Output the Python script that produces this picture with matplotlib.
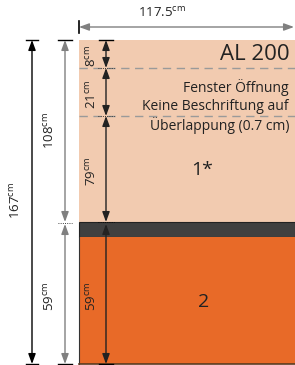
import matplotlib
matplotlib.use('Agg')
import matplotlib.pyplot as plt
from matplotlib.patches import Rectangle

plt.rcParams['font.family'] = ['Open Sans', 'DejaVu Sans']
plt.rcParams['mathtext.fontset'] = 'custom'
plt.rcParams['mathtext.rm'] = 'Open Sans'

# Maße (cm)
width_cm = 117.5
total_cm = 167
upper_cm = 108
lower_cm = 59
upper_parts_cm = [8, 21, 79]

# Beschriftungen
title = 'AL 200'
note_lines = ['Fenster Öffnung', 'Keine Beschriftung auf', 'Überlappung (0.7 cm)']
upper_label = '1*'
lower_label = '2'

# Layout in Pixel (nicht maßstäblich)
X0, X1 = 79, 295
Y_TOP = 40
Y_CUTS = [68, 116]
Y_BAND0, Y_BAND1 = 222, 237
Y_BOT = 364

PEACH = '#F2CBB0'
DARK = '#404040'
ORANGE = '#E86A28'
GREY = '#808080'
TXT = '#222222'
DIMSIZE = 9.5

fig = plt.figure(figsize=(2.95, 3.65), dpi=100)
ax = fig.add_axes([0, 0, 1, 1])
ax.set_xlim(0, 295)
ax.set_ylim(365, 0)
ax.axis('off')

# Flächen
ax.add_patch(Rectangle((X0, Y_TOP), X1 - X0, Y_BAND0 - Y_TOP, facecolor=PEACH, edgecolor='none'))
ax.add_patch(Rectangle((X0, Y_BAND0), X1 - X0, Y_BAND1 - Y_BAND0, facecolor=DARK,
                       edgecolor='#222222', linewidth=0.8))
ax.add_patch(Rectangle((X0, Y_BAND1), X1 - X0, Y_BOT - Y_BAND1, facecolor=ORANGE, edgecolor='none'))
ax.plot([X0, X0], [Y_BAND1, Y_BOT], color='#333333', lw=0.8)
ax.plot([X0, X1], [Y_BOT, Y_BOT], color='#5a3a20', lw=1.2)

for y in Y_CUTS:
    ax.plot([X0, X1], [y, y], color='#9a9a9a', lw=1.0, dashes=(6, 4))


def dim(x0, y0, x1, y1, color='black'):
    ax.annotate('', xy=(x1, y1), xytext=(x0, y0),
                arrowprops=dict(arrowstyle='<|-|>,head_length=0.6,head_width=0.22',
                                color=color, lw=1.0, shrinkA=0, shrinkB=0,
                                mutation_scale=10))


def cm(v):
    s = f'{v:g}'
    return s + r'$^{\mathrm{cm}}$'


# Breite oben
ax.plot([X0, X0], [21, 33], color='black', lw=1.2)
dim(X0, 27, 294, 27, color=GREY)
ax.text(162, 13, cm(width_cm), ha='center', va='center', fontsize=DIMSIZE, color=TXT)

# Gesamthöhe
xa = 32
ax.plot([xa - 6, xa + 6], [Y_TOP, Y_TOP], color='black', lw=1.0)
ax.plot([xa - 6, xa + 6], [Y_BOT, Y_BOT], color='black', lw=1.0)
dim(xa, Y_TOP, xa, Y_BOT)
ax.text(16, 200, cm(total_cm), rotation=90, ha='center', va='center', fontsize=DIMSIZE, color=TXT)

# 108 / 59
xb = 65
ax.plot([xb - 7, xb + 7], [Y_TOP, Y_TOP], color='black', lw=1.0)
ax.plot([xb - 7, xb + 7], [Y_BOT, Y_BOT], color='black', lw=1.0)
dim(xb, Y_TOP, xb, Y_BAND0, color=GREY)
dim(xb, Y_BAND0 + 2, xb, Y_BOT, color=GREY)
ax.plot([xb - 7, xb + 7], [Y_BAND0 + 1, Y_BAND0 + 1], color='black', lw=0.6, ls=':')
ax.text(50, 130, cm(upper_cm), rotation=90, ha='center', va='center', fontsize=DIMSIZE, color=TXT)
ax.text(50, 296, cm(lower_cm), rotation=90, ha='center', va='center', fontsize=DIMSIZE, color=TXT)

# Teilmaße im Feld
xc = 106
bounds = [Y_TOP] + Y_CUTS + [Y_BAND0]
ax.plot([xc - 7, xc + 7], [Y_TOP, Y_TOP], color='black', lw=1.0)
ax.plot([xc - 7, xc + 7], [Y_BOT, Y_BOT], color='black', lw=1.0)
for (ya, yb), v in zip(zip(bounds[:-1], bounds[1:]), upper_parts_cm):
    dim(xc, ya, xc, yb, color='#222222')
    ax.text(92, (ya + yb) / 2 + 2, cm(v), rotation=90, ha='center', va='center',
            fontsize=DIMSIZE, color=TXT)
for y in bounds[1:]:
    ax.plot([xc - 8, xc + 8], [y, y], color='black', lw=0.6, ls=':')
dim(xc, Y_BAND0 + 2, xc, Y_BOT, color='#222222')
ax.text(92, 296, cm(lower_cm), rotation=90, ha='center', va='center', fontsize=DIMSIZE, color=TXT)

# Texte
ax.text(290, 54, title, ha='right', va='center', fontsize=16, color=TXT)
for y, line in zip([88, 106, 125], note_lines):
    ax.text(289, y, line, ha='right', va='center', fontsize=10, color=TXT)
ax.text(202, 170, upper_label, ha='center', va='center', fontsize=14, color=TXT)
ax.text(204, 302, lower_label, ha='center', va='center', fontsize=14, color=TXT)

fig.savefig('out.png', dpi=100)
